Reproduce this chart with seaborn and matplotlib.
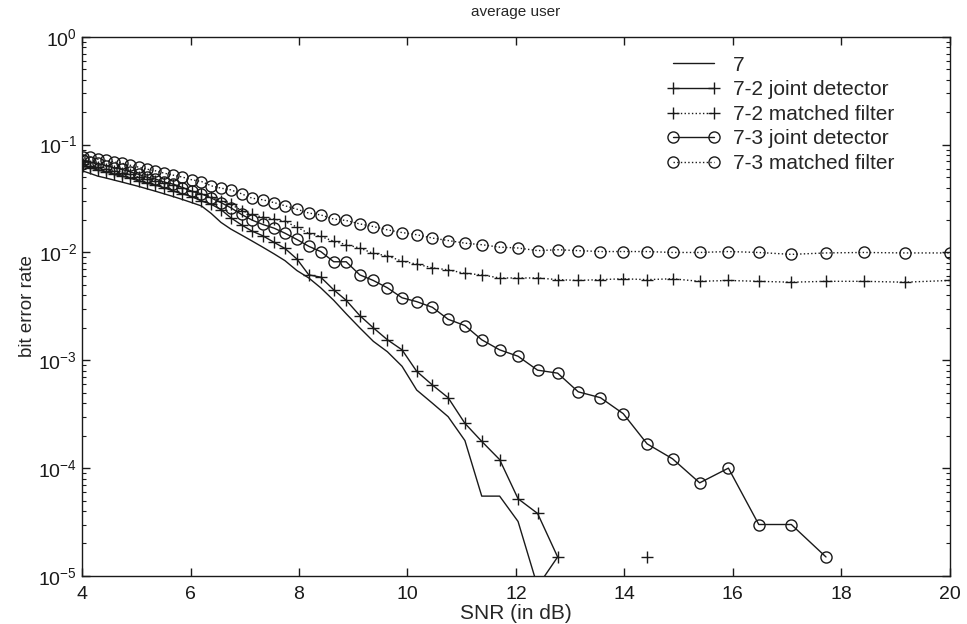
import numpy as np
import pandas as pd
import seaborn as sns
import matplotlib.pyplot as plt
from matplotlib.lines import Line2D

# SNR grid (dB), shared by all curves
snr_db = [4.01, 4.15, 4.29, 4.44, 4.58, 4.73, 4.88, 5.04, 5.19, 5.35,
          5.51, 5.68, 5.85, 6.02, 6.20, 6.38, 6.56, 6.74, 6.94, 7.13,
          7.33, 7.54, 7.74, 7.96, 8.18, 8.40, 8.64, 8.87, 9.12, 9.37,
          9.63, 9.90, 10.17, 10.46, 10.75, 11.06, 11.37, 11.70, 12.04, 12.40,
          12.77, 13.15, 13.56, 13.98, 14.42, 14.89, 15.39, 15.92, 16.48, 17.08,
          17.72, 18.42, 19.17, 20.00]

nan = np.nan

ber_7 = [0.057, 0.054, 0.051, 0.049, 0.047, 0.045, 0.043, 0.041, 0.039, 0.037,
         0.035, 0.033, 0.031, 0.029, 0.027, 0.023, 0.019, 0.0165, 0.0145, 0.0128,
         0.0112, 0.0097, 0.0084, 0.0068, 0.0058, 0.0047, 0.0036, 0.0027, 0.0020, 0.0015,
         0.0012, 0.00088, 0.00053, 0.00040, 0.00030, 0.00018, 5.5e-5, 5.5e-5, 3.2e-5, 8e-6,
         1.5e-5, nan, nan, nan, nan, nan, nan, nan, nan, nan,
         nan, nan, nan, nan]

ber_72_joint = [0.063, 0.061, 0.058, 0.056, 0.053, 0.051, 0.049, 0.046, 0.044, 0.042,
                0.040, 0.037, 0.035, 0.033, 0.030, 0.028, 0.025, 0.021, 0.018, 0.0158,
                0.0143, 0.0124, 0.0109, 0.0087, 0.0062, 0.0059, 0.0045, 0.0036, 0.0026, 0.0020,
                0.00155, 0.00125, 0.00079, 0.00059, 0.00045, 0.00026, 0.000177, 0.000120, 5.2e-5, 3.8e-5,
                1.5e-5, nan, nan, nan, 1.5e-5, nan, nan, nan, nan, nan,
                nan, nan, nan, nan]

ber_72_mf = [0.066, 0.064, 0.062, 0.059, 0.057, 0.055, 0.053, 0.050, 0.048, 0.046,
             0.044, 0.042, 0.040, 0.037, 0.035, 0.033, 0.030, 0.028, 0.0245, 0.0225,
             0.0212, 0.0204, 0.0194, 0.0172, 0.0150, 0.0141, 0.0127, 0.0118, 0.0110, 0.0098,
             0.0093, 0.0083, 0.0078, 0.0072, 0.0069, 0.0064, 0.0062, 0.0058, 0.0058, 0.0058,
             0.0056, 0.0055, 0.0056, 0.0057, 0.0056, 0.0057, 0.0054, 0.0055, 0.0054, 0.0053,
             0.0054, 0.0054, 0.0053, 0.0055]

ber_73_joint = [0.072, 0.069, 0.067, 0.064, 0.061, 0.059, 0.056, 0.053, 0.050, 0.048,
                0.045, 0.043, 0.040, 0.037, 0.035, 0.032, 0.029, 0.026, 0.0225, 0.0200,
                0.0182, 0.0168, 0.0151, 0.0132, 0.0114, 0.0102, 0.0082, 0.0082, 0.0062, 0.0055,
                0.0047, 0.0038, 0.0035, 0.0031, 0.0024, 0.0021, 0.00155, 0.00125, 0.00109, 0.00081,
                0.00076, 0.00051, 0.00045, 0.00032, 0.000168, 0.000122, 7.3e-5, 1.0e-4, 3.0e-5, 3.0e-5,
                1.5e-5, nan, nan, nan]

ber_73_mf = [0.0776, 0.0766, 0.0733, 0.0713, 0.0692, 0.0673, 0.0645, 0.0618, 0.0593, 0.0572,
             0.0544, 0.0521, 0.0500, 0.0472, 0.0455, 0.0415, 0.0395, 0.0381, 0.0350, 0.0319,
             0.0308, 0.0290, 0.0271, 0.0252, 0.0232, 0.0223, 0.0204, 0.0198, 0.0184, 0.0174,
             0.0162, 0.0153, 0.0146, 0.0136, 0.0129, 0.0122, 0.0118, 0.0112, 0.0110, 0.0104,
             0.0106, 0.0104, 0.0102, 0.0102, 0.0102, 0.0100, 0.0100, 0.0102, 0.0100, 0.0096,
             0.0099, 0.0100, 0.0099, 0.0099]

labels = ['7', '7-2 joint detector', '7-2 matched filter',
          '7-3 joint detector', '7-3 matched filter']

sns.set_theme(style="ticks")
plt.rcParams['font.family'] = ['Liberation Sans', 'DejaVu Sans']
plt.rcParams['mathtext.fontset'] = 'custom'
plt.rcParams['mathtext.rm'] = 'Liberation Sans'

fig = plt.figure(figsize=(9.67, 6.24), dpi=100)
ax = fig.add_axes([0.085, 0.077, 0.897, 0.864])

curves = [
    (ber_7, '-', None),
    (ber_72_joint, '-', '+'),
    (ber_72_mf, ':', '+'),
    (ber_73_joint, '-', 'o'),
    (ber_73_mf, ':', 'o'),
]

handles = []
for (vals, ls, mk), lab in zip(curves, labels):
    df = pd.DataFrame({'snr': snr_db, 'ber': vals})
    # break the line where there are no errors (no point on a log axis)
    df['seg'] = df['ber'].isna().cumsum()
    df = df.dropna()
    kws = dict(color='k', linewidth=1.0, linestyle=ls)
    if mk is not None:
        kws.update(marker=mk, markersize=8 if mk == 'o' else 9,
                   markerfacecolor='none', markeredgecolor='k',
                   markeredgewidth=1.0)
    sns.lineplot(data=df, x='snr', y='ber', units='seg', estimator=None,
                 sort=False, ax=ax, **kws)
    handles.append(Line2D([], [], label=lab, **kws))

ax.set_yscale('log')
ax.set_xlim(4, 20)
ax.set_ylim(1e-5, 1)
ax.set_xticks(range(4, 21, 2))
ax.minorticks_on()
ax.xaxis.set_minor_locator(plt.NullLocator())
ax.tick_params(which='both', direction='in', top=True, right=True,
               labelsize=14, colors='k')
ax.tick_params(which='major', length=6, width=1)
ax.tick_params(which='minor', length=3, width=0.8)
ax.tick_params(axis='x', pad=7)
for s in ax.spines.values():
    s.set_color('k')
    s.set_linewidth(1.0)

ax.set_title('average user', fontsize=11, pad=15)
ax.set_xlabel('SNR (in dB)', fontsize=15, labelpad=1)
ax.set_ylabel('bit error rate', fontsize=13.5, labelpad=2)

ax.legend(handles=handles, loc='upper right', frameon=False, numpoints=2,
          fontsize=15, handlelength=2.6, handletextpad=0.6,
          labelspacing=0.27, borderaxespad=0.5, bbox_to_anchor=(0.958, 1.0))

fig.savefig('out.png', dpi=100, facecolor='white')
